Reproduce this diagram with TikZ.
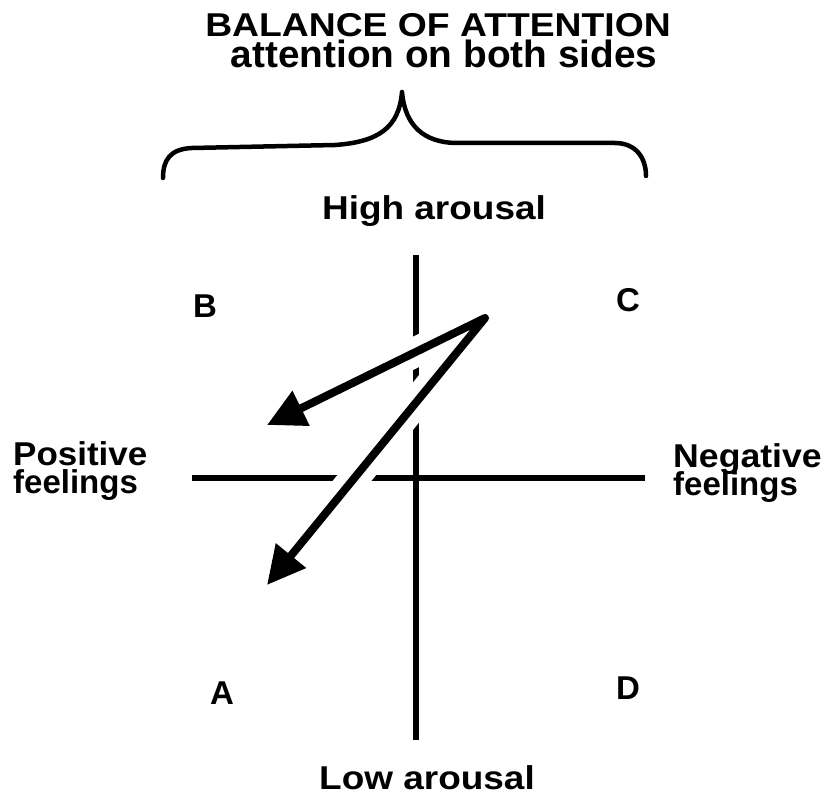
\documentclass[tikz,border=0pt]{standalone}
\usepackage{fontspec}
\usepackage{graphicx}
\setmainfont{Liberation Sans}
\usetikzlibrary{arrows.meta}
\newcommand\stretchx[2]{\scalebox{#1}[1]{#2}}
\tikzset{
  lbl/.style={inner sep=0pt, font=\fontsize{33}{33}\selectfont\bfseries},
  lblbig/.style={inner sep=0pt, font=\fontsize{38}{38}\selectfont\bfseries},
  axis/.style={line width=5.5pt},
  halo/.style={white, line width=30pt, shorten >=30pt, shorten <=25pt},
  arr/.style={line width=8pt, line join=round, {Triangle[length=38pt,width=37pt]}-{Triangle[length=38pt,width=37pt]}},
  brace/.style={line width=4.5pt, line cap=round, line join=round}
}
\begin{document}
\begin{tikzpicture}[x=1pt,y=-1pt]
\useasboundingbox (0,0) rectangle (829,805);
% titles
\node[lbl, anchor=base] (t1) at (438,37) {\stretchx{1.13}{BALANCE OF ATTENTION}};
\node[lblbig, anchor=base] (t2) at (444,68) {\stretchx{1.02}{attention on both sides}};
% brace
\draw[brace] (163,178) .. controls (163,160) and (170,149) .. (192,148)
  -- (335,145) .. controls (378,142) and (399,128) .. (402,92)
  .. controls (405,126) and (424,142) .. (455,143)
  -- (615,143) .. controls (636,143) and (646,158) .. (646,176);
% axis labels
\node[lbl, anchor=base] (high) at (434,219) {\stretchx{1.12}{High arousal}};
\node[lbl, anchor=base] (low) at (427,789) {\stretchx{1.12}{Low arousal}};
\node[lbl, anchor=base west] (pos1) at (13,465) {\stretchx{1.06}{Positive}};
\node[lbl, anchor=base west] (pos2) at (13,493) {feelings};
\node[lbl, anchor=base west] (neg1) at (673,467) {\stretchx{1.08}{Negative}};
\node[lbl, anchor=base west] (neg2) at (673,495) {feelings};
% quadrant letters
\node[lbl] (B) at (205,306) {B};
\node[lbl] (C) at (628,300) {C};
\node[lbl] (A) at (222,693) {A};
\node[lbl] (D) at (628,688) {D};
% axes
\coordinate (vt) at (416,255);
\coordinate (vb) at (416,740);
\coordinate (hl) at (192,478);
\coordinate (hr) at (645,478);
\draw[axis] (vt) -- (vb);
\draw[axis] (hl) -- (hr);
% arrows
\coordinate (s) at (485,318);
\coordinate (e1) at (267,425);
\coordinate (e2) at (267,585);
\draw[halo] (e1) -- (s) -- (e2);
\draw[arr] (e1) -- (s) -- (e2);
\end{tikzpicture}
\end{document}
